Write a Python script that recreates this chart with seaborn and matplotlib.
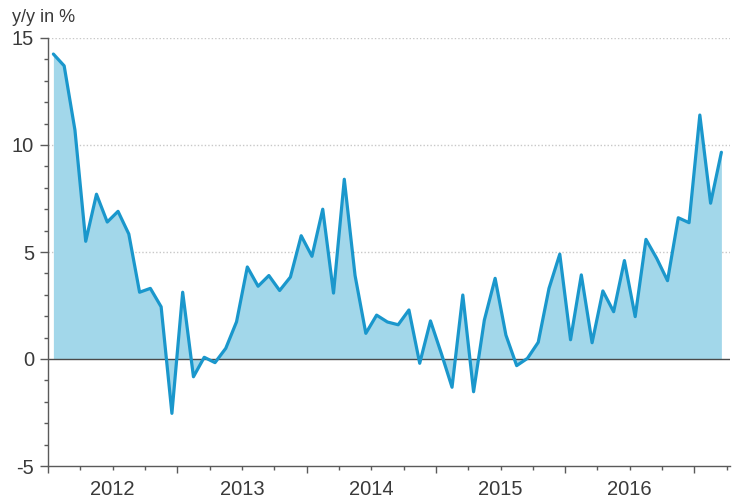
import matplotlib
matplotlib.use('Agg')
import matplotlib.pyplot as plt
import numpy as np
import pandas as pd
import seaborn as sns
from matplotlib.ticker import FixedLocator, FixedFormatter, MultipleLocator, NullFormatter

# monthly y/y growth, Jan 2012 .. Mar 2017
values = [14.25, 13.7, 10.7, 5.5, 7.7, 6.4, 6.9, 5.84, 3.12, 3.3, 2.44, -2.54,
          3.12, -0.83, 0.08, -0.17, 0.5, 1.74, 4.3, 3.4, 3.9, 3.2, 3.83, 5.76,
          4.8, 7.0, 3.08, 8.4, 3.9, 1.2, 2.05, 1.73, 1.6, 2.29, -0.2, 1.78,
          0.27, -1.32, 2.99, -1.53, 1.82, 3.77, 1.12, -0.31, 0.03, 0.78, 3.3, 4.9,
          0.9, 3.93, 0.76, 3.18, 2.21, 4.6, 1.98, 5.59, 4.7, 3.66, 6.6, 6.37,
          11.4, 7.28, 9.66]
years = ['2012', '2013', '2014', '2015', '2016']
y_label = 'y/y in %'

df = pd.DataFrame({'month': np.arange(len(values)), 'value': values})

sns.set_style('white')
plt.rcParams['font.family'] = ['Liberation Sans', 'DejaVu Sans']
plt.rcParams['axes.unicode_minus'] = False

text_col = '#3a3a3a'
axis_col = '#5a5a5a'
line_col = '#1a97cc'
fill_col = '#a2d7ea'

fig = plt.figure(figsize=(7.32, 5.01), dpi=100)
ax = fig.add_axes([48 / 732, 35 / 501, 682 / 732, 428 / 501])

ax.fill_between(df['month'], df['value'], 0, color=fill_col, linewidth=0, zorder=1)
sns.lineplot(data=df, x='month', y='value', ax=ax, color=line_col,
             linewidth=2.3, zorder=3)
ax.axhline(0, color='#4a4a4a', linewidth=1.0, zorder=2)
for g in [5, 10, 15]:
    ax.axhline(g, color='#c8c8c8', linewidth=1.0, linestyle=(0, (1, 1.5)), zorder=0)

ax.set_xlim(-0.5, 62.8)
ax.set_ylim(-5, 15)

# y axis
ax.yaxis.set_major_locator(MultipleLocator(5))
ax.yaxis.set_minor_locator(MultipleLocator(1))
ax.tick_params(axis='y', which='both', left=True)
ax.tick_params(axis='y', which='major', length=6, width=1, color=axis_col,
               labelsize=14.5, labelcolor=text_col, pad=4)
ax.tick_params(axis='y', which='minor', length=3, width=1, color=axis_col)

# x axis: long ticks at year starts, short ticks every quarter,
# year names under the middle of each year
n_years = len(years)
bounds = [-0.5 + 12 * k for k in range(n_years + 2)]
quarters = [-0.5 + 3 * k for k in range(22) if k % 4 != 0]
quarter_labels = [years[int((q + 0.5) // 12)] if (q - 5.5) % 12 == 0 and (q + 0.5) // 12 < n_years
                  else '' for q in quarters]
ax.xaxis.set_major_locator(FixedLocator(bounds))
ax.xaxis.set_major_formatter(NullFormatter())
ax.xaxis.set_minor_locator(FixedLocator(quarters))
ax.xaxis.set_minor_formatter(FixedFormatter(quarter_labels))
ax.tick_params(axis='x', which='both', bottom=True)
ax.tick_params(axis='x', which='major', length=5, width=1, color=axis_col)
ax.tick_params(axis='x', which='minor', length=3, width=1, color=axis_col,
               labelsize=14.5, labelcolor=text_col, pad=7)

ax.set_xlabel('')
ax.set_ylabel('')
for side in ['top', 'right']:
    ax.spines[side].set_visible(False)
for side in ['left', 'bottom']:
    ax.spines[side].set_color(axis_col)
    ax.spines[side].set_linewidth(1)

fig.text(12 / 732, 1 - 17 / 501, y_label, fontsize=13, color=text_col,
         ha='left', va='center')

fig.savefig('out.png', dpi=100)
